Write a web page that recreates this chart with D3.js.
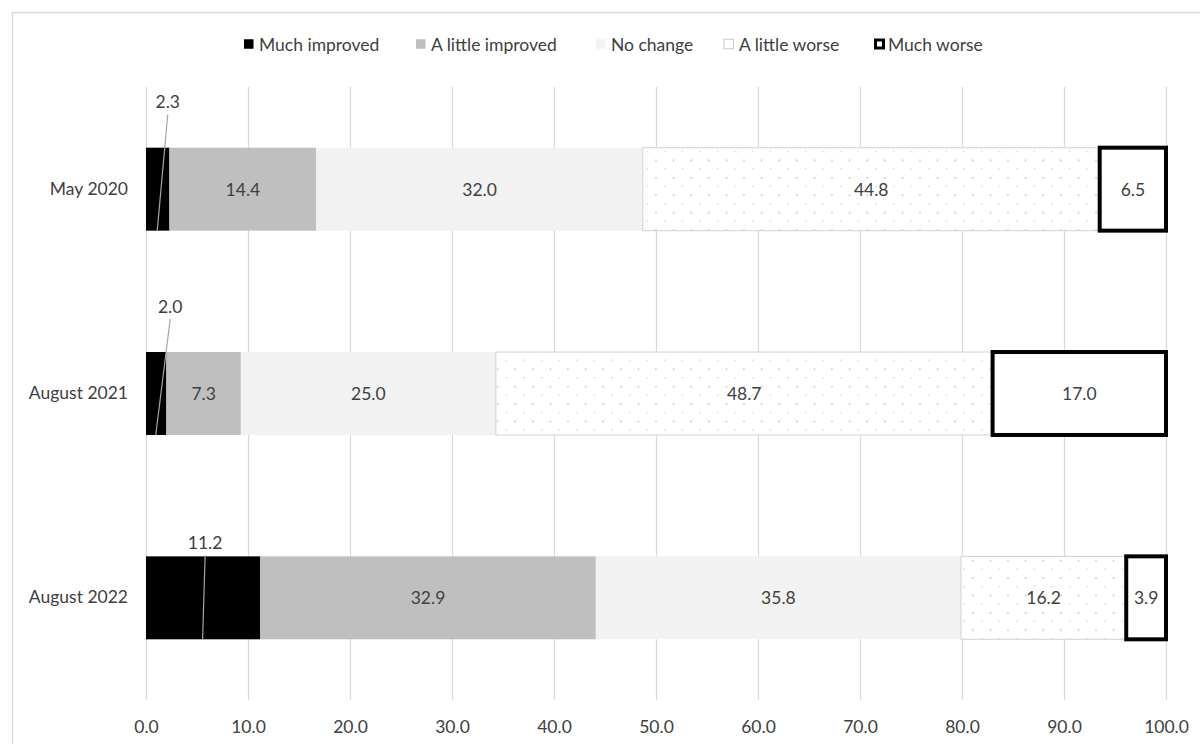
<!DOCTYPE html>
<html>
<head>
<meta charset="utf-8">
<script src="https://cdn.jsdelivr.net/npm/d3@7"></script>
<style>
  html, body { margin: 0; padding: 0; background: #fff; }
  svg { display: block; }
  text { font-family: Lato, "Open Sans", sans-serif; fill: #404040; }
</style>
</head>
<body>
<svg id="chart" width="1200" height="744"></svg>
<script>
// Survey waves (rows) and answer categories (stacked segments)
const waves = ["May 2020", "August 2021", "August 2022"];
const categories = ["Much improved", "A little improved", "No change", "A little worse", "Much worse"];

// Percentages per category, one value per wave
const muchImproved    = [2.3, 2.0, 11.2];
const littleImproved  = [14.4, 7.3, 32.9];
const noChange        = [32.0, 25.0, 35.8];
const littleWorse     = [44.8, 48.7, 16.2];
const muchWorse       = [6.5, 17.0, 3.9];

const xTicks = [0, 10, 20, 30, 40, 50, 60, 70, 80, 90, 100];

const seriesValues = [muchImproved, littleImproved, noChange, littleWorse, muchWorse];

// Build a table for d3.stack
const rows = waves.map((w, i) => {
  const r = { wave: w };
  categories.forEach((c, k) => { r[c] = seriesValues[k][i]; });
  return r;
});

const FS = "17.5px";
const svg = d3.select("#chart");

// Chart frame
svg.append("rect")
  .attr("x", 12.5).attr("y", 12.5)
  .attr("width", 1200).attr("height", 760)
  .attr("fill", "none").attr("stroke", "#d9d9d9").attr("stroke-width", 1.5);

const x = d3.scaleLinear().domain([0, 100]).range([146, 1166]);
const y = d3.scaleBand().domain(waves).range([87, 700]).paddingInner(0.594).paddingOuter(0.297);

// Dotted fill for "A little worse"
const defs = svg.append("defs");
const pat = defs.append("pattern")
  .attr("id", "dots").attr("patternUnits", "userSpaceOnUse")
  .attr("width", 17.6).attr("height", 17.4);
pat.append("rect").attr("width", 17.6).attr("height", 17.4).attr("fill", "#ffffff");
pat.append("rect").attr("x", 4).attr("y", 3).attr("width", 1.6).attr("height", 1.6).attr("fill", "#c4c4c4");
pat.append("rect").attr("x", 12.8).attr("y", 11.7).attr("width", 1.6).attr("height", 1.2).attr("fill", "#d0d0d0");

// Vertical gridlines
svg.append("g")
  .selectAll("line")
  .data(xTicks)
  .join("line")
  .attr("x1", d => x(d) + 0.5).attr("x2", d => x(d) + 0.5)
  .attr("y1", 87).attr("y2", 700)
  .attr("stroke", "#d9d9d9").attr("stroke-width", 1.2);

// X axis tick labels
const xAxis = d3.axisBottom(x).tickValues(xTicks).tickFormat(d3.format(".1f")).tickSize(0).tickPadding(0);
const gx = svg.append("g").attr("transform", "translate(0,721)").call(xAxis);
gx.select(".domain").remove();
gx.selectAll("text").style("font-size", FS).style("font-family", "Lato, 'Open Sans', sans-serif").attr("fill", "#595959");

// Y axis category labels
const yAxis = d3.axisLeft(y).tickSize(0).tickPadding(0);
const gy = svg.append("g").attr("transform", "translate(128,0)").call(yAxis);
gy.select(".domain").remove();
gy.selectAll("text").style("font-size", FS).style("font-family", "Lato, 'Open Sans', sans-serif").attr("fill", "#595959");

const stack = d3.stack().keys(categories);
const stacked = stack(rows);

const fills = ["#000000", "#bfbfbf", "#f2f2f2", "url(#dots)", "#ffffff"];
const strokes = ["none", "none", "none", "#d9d9d9", "#000000"];
const strokeWidths = [0, 0, 0, 1.2, 4];

const layers = svg.append("g").selectAll("g")
  .data(stacked)
  .join("g");

layers.selectAll("rect")
  .data((d, k) => d.map(seg => ({ seg, k })))
  .join("rect")
  .attr("x", d => x(d.seg[0]))
  .attr("y", d => y(d.seg.data.wave))
  .attr("width", d => x(d.seg[1]) - x(d.seg[0]))
  .attr("height", y.bandwidth())
  .attr("fill", d => fills[d.k])
  .attr("stroke", d => strokes[d.k])
  .attr("stroke-width", d => strokeWidths[d.k]);

// Value labels centred in each segment (except the first, which uses callouts)
const labelG = svg.append("g");
stacked.forEach((layer, k) => {
  if (k === 0) return;
  layer.forEach(seg => {
    labelG.append("text")
      .attr("x", (x(seg[0]) + x(seg[1])) / 2)
      .attr("y", y(seg.data.wave) + y.bandwidth() / 2)
      .attr("text-anchor", "middle")
      .attr("dominant-baseline", "central")
      .style("font-size", FS)
      .text(d3.format(".1f")(seg[1] - seg[0]));
  });
});

// Callout labels above the "Much improved" segments, with leader lines
const calloutDx = [10, 14, 2];     // label offset from segment centre (px)
const calloutRise = [46, 46, 14];  // label centre height above bar top (px)
stacked[0].forEach((seg, i) => {
  const cx = (x(seg[0]) + x(seg[1])) / 2;
  const top = y(seg.data.wave);
  const bottom = top + y.bandwidth();
  const lx = cx + calloutDx[i];
  const ly = top - calloutRise[i];
  svg.append("line")
    .attr("x1", lx).attr("y1", Math.min(ly + 13, top))
    .attr("x2", cx - 0.5).attr("y2", bottom)
    .attr("stroke", "#a6a6a6").attr("stroke-width", 1.2);
  svg.append("text")
    .attr("x", lx).attr("y", ly)
    .attr("text-anchor", "middle")
    .attr("dominant-baseline", "central")
    .style("font-size", FS)
    .text(d3.format(".1f")(seg[1] - seg[0]));
});

// Legend
const legendX = [244, 416, 596, 724, 874];
const legendSwatch = ["#000000", "#bfbfbf", "#f2f2f2", "#ffffff", "#ffffff"];
const legendStroke = ["none", "none", "none", "#c8c8c8", "#000000"];
const legendSW = [0, 0, 0, 1, 3];
const lg = svg.append("g");
categories.forEach((c, k) => {
  const g = lg.append("g").attr("transform", `translate(${legendX[k]},44)`);
  const s = k === 4 ? 8 : 9.5;
  const off = k === 4 ? 1.5 : 0;
  g.append("rect")
    .attr("x", off).attr("y", -s / 2)
    .attr("width", s).attr("height", s)
    .attr("fill", legendSwatch[k])
    .attr("stroke", legendStroke[k]).attr("stroke-width", legendSW[k]);
  g.append("text")
    .attr("x", k === 4 ? 14 : 15).attr("y", 0)
    .attr("dominant-baseline", "central")
    .style("font-size", FS)
    .attr("fill", "#595959")
    .text(c);
});
</script>
</body>
</html>
